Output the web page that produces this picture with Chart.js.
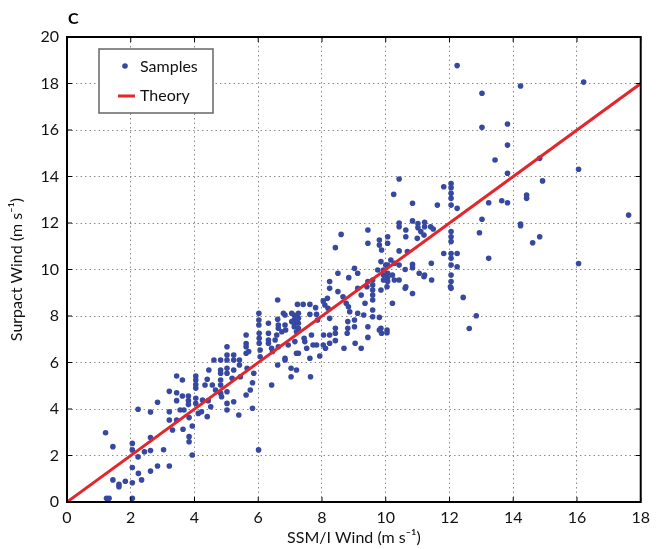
<!DOCTYPE html>
<html>
<head>
<meta charset="utf-8">
<script src="https://cdn.jsdelivr.net/npm/chart.js@4.4.0/dist/chart.umd.min.js"></script>
<style>
  html, body { margin: 0; padding: 0; background: #fff; }
  #wrap { width: 656px; height: 549px; }
</style>
</head>
<body>
<div id="wrap"><canvas id="chart" width="656" height="549"></canvas></div>
<script>
// ---- data ----
const xTicks = [0, 2, 4, 6, 8, 10, 12, 14, 16, 18];
const yTicks = [0, 2, 4, 6, 8, 10, 12, 14, 16, 18, 20];

// theory line: y = x
const theoryX = [0, 18];
const theoryY = [0, 18];

// SSM/I wind vs Surpact wind samples [x, y]
const samples = [
  // low winds
  [1.21, 2.98], [1.44, 2.38], [1.24, 0.16], [1.32, 0.16], [1.44, 0.95], [1.63, 0.76], [1.63, 0.66], [1.83, 0.89],
  [2.05, 2.52], [2.05, 2.24], [2.05, 1.48], [2.05, 0.83], [2.05, 0.16], [2.23, 3.99], [2.23, 1.94], [2.24, 1.23],
  [2.34, 0.95], [2.43, 2.16], [2.62, 3.87], [2.62, 2.77], [2.62, 2.21], [2.62, 1.33], [2.84, 4.29], [2.84, 1.55],
  [3.03, 2.25], [3.21, 4.76], [3.21, 3.88], [3.21, 3.53], [3.21, 1.55], [3.31, 3.10], [3.44, 5.42], [3.44, 4.70],
  [3.44, 4.36], [3.44, 3.53], [3.55, 3.96], [3.62, 5.25], [3.62, 4.56], [3.64, 3.13], [3.81, 4.56], [3.81, 4.36],
  [3.81, 4.19], [3.83, 3.63], [3.83, 2.81], [3.83, 2.59], [3.93, 3.27], [3.93, 2.02], [4.04, 5.42], [4.04, 5.25],
  [4.04, 5.05], [4.04, 4.90], [4.12, 3.81], [4.22, 3.88], [4.33, 5.03], [4.40, 3.67], [4.43, 4.36],
  // 4 - 7.5
  [6.61, 8.69], [6.02, 8.12], [6.02, 7.83], [6.02, 7.61], [6.32, 7.69], [6.61, 7.86], [6.63, 7.61], [6.79, 8.12],
  [6.86, 7.40], [7.13, 8.03], [7.13, 7.83], [7.13, 7.69], [7.13, 7.54], [7.20, 7.32], [5.62, 7.18], [5.62, 6.82],
  [5.62, 6.68], [5.62, 6.40], [5.70, 6.47], [6.03, 7.26], [6.03, 7.04], [6.03, 6.83], [6.06, 6.54], [6.06, 6.25],
  [6.32, 7.26], [6.32, 6.97], [6.32, 6.83], [6.42, 6.61], [6.45, 6.47], [6.53, 6.97], [6.63, 6.68], [6.61, 5.89],
  [6.84, 6.18], [7.03, 5.75], [7.20, 6.40], [7.20, 5.68], [5.02, 6.68], [5.02, 6.32], [5.02, 6.11], [5.23, 6.32],
  [5.23, 6.11], [5.41, 6.11], [5.41, 5.89], [4.82, 6.11], [4.82, 5.68], [4.82, 5.54], [4.61, 6.11], [4.82, 5.25],
  [4.82, 5.03], [5.02, 5.75], [5.02, 5.54], [5.18, 5.32], [5.23, 5.68], [5.44, 5.39], [5.65, 5.75], [5.82, 5.13],
  [5.62, 4.60], [5.82, 4.03], [5.86, 5.54], [4.45, 5.68], [4.40, 5.28], [4.56, 5.03], [4.66, 4.82], [4.85, 4.53],
  [5.02, 4.74], [5.23, 4.31], [5.02, 4.24], [5.02, 3.96], [4.82, 4.68], [4.04, 4.46], [4.04, 4.24], [3.67, 3.96],
  [4.25, 4.39], [4.51, 4.10], [5.39, 3.74], [6.42, 5.03], [5.75, 4.82], [6.01, 2.24],
  // 7 - 10
  [8.60, 11.51], [8.42, 10.94], [9.44, 11.70], [9.44, 11.13], [9.80, 11.27], [9.80, 11.05], [9.87, 10.84], [9.02, 10.05],
  [9.12, 9.84], [8.84, 9.65], [8.50, 9.84], [8.24, 9.48], [8.24, 9.19], [8.04, 8.65], [8.09, 8.47], [8.17, 8.76],
  [8.50, 9.05], [8.66, 8.83], [8.76, 8.55], [8.83, 8.40], [8.87, 8.18], [9.12, 9.19], [9.23, 8.90], [9.44, 9.48],
  [9.41, 9.26], [9.59, 9.55], [9.59, 9.33], [9.59, 9.12], [9.59, 8.90], [9.59, 8.69], [9.75, 9.98], [9.93, 9.98],
  [9.93, 9.76], [9.93, 9.55], [10.0, 10.19], [9.31, 8.04], [9.12, 8.12], [9.02, 7.83], [9.35, 8.55], [9.59, 8.26],
  [9.59, 7.97], [9.85, 7.47], [9.87, 7.26], [9.44, 7.54], [9.04, 6.83], [9.23, 6.61], [8.42, 7.47], [8.42, 7.26],
  [8.24, 7.18], [8.05, 7.18], [8.79, 7.26], [8.81, 7.76], [8.24, 7.90], [7.86, 7.83], [8.19, 8.33], [7.80, 8.36],
  [7.62, 8.50], [7.41, 8.50], [7.23, 8.50], [7.83, 8.07], [7.62, 8.07], [7.26, 8.12], [7.26, 7.90], [7.26, 7.69],
  [7.26, 7.47], [7.05, 8.12], [7.05, 7.76], [6.84, 8.04], [6.84, 7.61], [6.63, 7.47], [6.74, 7.32], [6.58, 7.18],
  [7.46, 6.90], [7.15, 6.90], [7.52, 6.61], [7.67, 7.18], [7.83, 6.75], [8.24, 6.83], [8.69, 6.61], [8.11, 6.61],
  [6.94, 6.75], [7.26, 6.40],
  [10.84, 8.97], [10.61, 9.19], [11.44, 9.55], [11.2, 9.69], [11.43, 10.27], [10.61, 10.0], [10.21, 8.55], [10.04, 9.26],
  [10.04, 7.40], [10.04, 7.28], [9.80, 7.40], [9.80, 7.94], [9.44, 7.08], [9.02, 7.54], [8.81, 7.47], [8.42, 6.94],
  [8.04, 6.75], [7.93, 6.28], [7.62, 6.18], [7.64, 5.39], [7.72, 6.75], [7.44, 7.04], [7.03, 5.39], [6.84, 6.11],
  [12.43, 8.80], [12.84, 8.01], [12.62, 7.46], [13.23, 10.48], [12.94, 11.58], [14.61, 11.15], [14.83, 11.41], [16.05, 10.26],
  [12.03, 9.26],
  // 10 - 12.5
  [10.42, 13.89], [10.25, 13.23], [10.84, 12.85], [11.82, 13.56], [12.05, 13.70], [12.05, 13.52], [12.05, 13.28], [12.05, 13.06],
  [12.05, 12.77], [11.62, 12.77], [12.24, 12.63], [10.42, 12.00], [10.42, 11.84], [10.84, 12.09], [11.01, 11.98], [11.01, 11.80],
  [11.22, 12.03], [11.22, 11.84], [11.41, 11.84], [11.49, 11.74], [10.63, 11.70], [10.63, 11.41], [11.10, 11.63], [11.20, 11.48],
  [10.99, 11.34], [10.06, 11.41], [10.06, 11.13], [10.42, 10.80], [10.68, 10.77], [12.05, 11.63], [12.05, 11.41], [12.05, 11.20],
  [11.82, 10.69], [12.24, 10.69], [12.05, 10.69], [12.05, 10.48], [12.05, 10.19], [12.24, 10.12], [10.42, 10.19], [10.84, 10.22],
  [10.84, 10.08], [9.85, 10.34], [10.06, 10.19], [10.16, 10.41], [10.27, 10.27], [10.06, 9.84], [10.06, 9.65], [10.06, 9.48],
  [10.21, 9.76], [10.27, 9.55], [10.42, 9.55], [10.63, 9.26], [11.05, 9.84], [11.22, 9.76], [12.05, 9.76], [12.05, 9.48],
  [12.05, 9.19], [9.85, 9.12],
  // high winds
  [14.23, 17.89], [13.02, 17.58], [13.02, 16.12], [13.82, 16.26], [13.82, 15.35], [13.43, 14.71], [13.82, 14.14], [14.83, 14.78],
  [14.92, 13.81], [14.42, 13.20], [14.42, 13.06], [13.23, 12.87], [13.64, 12.96], [13.82, 12.87], [13.02, 12.16], [14.23, 11.96],
  [14.23, 11.88], [12.24, 18.77], [16.21, 18.06], [17.62, 12.34], [16.05, 14.31]
];

// ---- chart ----
const FONT = "Lato, 'Noto Sans', sans-serif";

function line(ctx, x1, y1, x2, y2) {
  ctx.beginPath();
  ctx.moveTo(x1, y1);
  ctx.lineTo(x2, y2);
  ctx.stroke();
}

// frame, inward ticks, panel letter and boxed legend (matlab look)
const framePlugin = {
  id: "frame",
  afterDraw(chart) {
    const { ctx, chartArea: a, scales: { x, y } } = chart;
    ctx.save();
    ctx.strokeStyle = "#000";
    ctx.lineWidth = 1;
    xTicks.forEach(v => {
      const px = x.getPixelForValue(v);
      line(ctx, px, a.bottom, px, a.bottom - 5);
      line(ctx, px, a.top, px, a.top + 5);
    });
    yTicks.forEach(v => {
      const py = y.getPixelForValue(v);
      line(ctx, a.left, py, a.left + 5, py);
      line(ctx, a.right, py, a.right - 5, py);
    });
    ctx.lineWidth = 2;
    ctx.strokeRect(a.left, a.top, a.right - a.left, a.bottom - a.top);

    // panel letter
    ctx.fillStyle = "#000";
    ctx.font = "bold 16px " + FONT;
    ctx.textBaseline = "middle";
    ctx.textAlign = "left";
    ctx.fillText("C", a.left + 1, 19);

    // legend
    const lx = a.left + 32, ly = a.top + 12, lw = 114, lh = 64;
    ctx.fillStyle = "#fff";
    ctx.fillRect(lx, ly, lw, lh);
    ctx.strokeStyle = "#666";
    ctx.lineWidth = 1.5;
    ctx.strokeRect(lx, ly, lw, lh);
    ctx.fillStyle = "rgb(55,72,160)";
    ctx.beginPath();
    ctx.arc(lx + 26, ly + 17, 2.8, 0, Math.PI * 2);
    ctx.fill();
    ctx.strokeStyle = "#e3262b";
    ctx.lineWidth = 3;
    line(ctx, lx + 19, ly + 47, lx + 36, ly + 47);
    ctx.fillStyle = "#111";
    ctx.font = "16px " + FONT;
    ctx.fillText("Samples", lx + 41, ly + 18);
    ctx.fillText("Theory", lx + 41, ly + 47);
    ctx.restore();
  }
};

const ctx = document.getElementById("chart").getContext("2d");
new Chart(ctx, {
  type: "scatter",
  data: {
    datasets: [
      {
        label: "Samples",
        data: samples.map(([x, y]) => ({ x, y })),
        pointStyle: "circle",
        pointRadius: 2.8,
        backgroundColor: "rgb(55,72,160)",
        borderWidth: 0,
        order: 1
      },
      {
        label: "Theory",
        data: theoryX.map((x, i) => ({ x, y: theoryY[i] })),
        showLine: true,
        borderColor: "#e3262b",
        borderWidth: 3,
        pointRadius: 0,
        order: 0
      }
    ]
  },
  options: {
    responsive: false,
    animation: false,
    layout: { padding: { top: 37, right: 11, left: 0, bottom: 0 } },
    plugins: { legend: { display: false }, tooltip: { enabled: false } },
    scales: {
      x: {
        type: "linear",
        min: 0,
        max: 18,
        afterBuildTicks: s => { s.ticks = xTicks.map(v => ({ value: v })); },
        afterFit: s => { s.height = 47; },
        grid: { color: "#8c8c8c", lineWidth: 1, drawTicks: false },
        border: { display: false, dash: [1.5, 3] },
        ticks: { padding: 6, color: "#111", font: { family: FONT, size: 16 } },
        title: {
          display: true,
          text: "SSM/I Wind (m s⁻¹)",
          color: "#111",
          font: { family: FONT, size: 16 },
          padding: { top: 0, bottom: 2 }
        }
      },
      y: {
        type: "linear",
        min: 0,
        max: 20,
        afterBuildTicks: s => { s.ticks = yTicks.map(v => ({ value: v })); },
        afterFit: s => { s.width = 67; },
        grid: { color: "#8c8c8c", lineWidth: 1, drawTicks: false },
        border: { display: false, dash: [1.5, 3] },
        ticks: { padding: 8, color: "#111", font: { family: FONT, size: 16 } },
        title: {
          display: true,
          text: "Surpact Wind (m s⁻¹)",
          color: "#111",
          font: { family: FONT, size: 16 },
          padding: { top: 7, bottom: 0 }
        }
      }
    }
  },
  plugins: [framePlugin]
});
</script>
</body>
</html>
